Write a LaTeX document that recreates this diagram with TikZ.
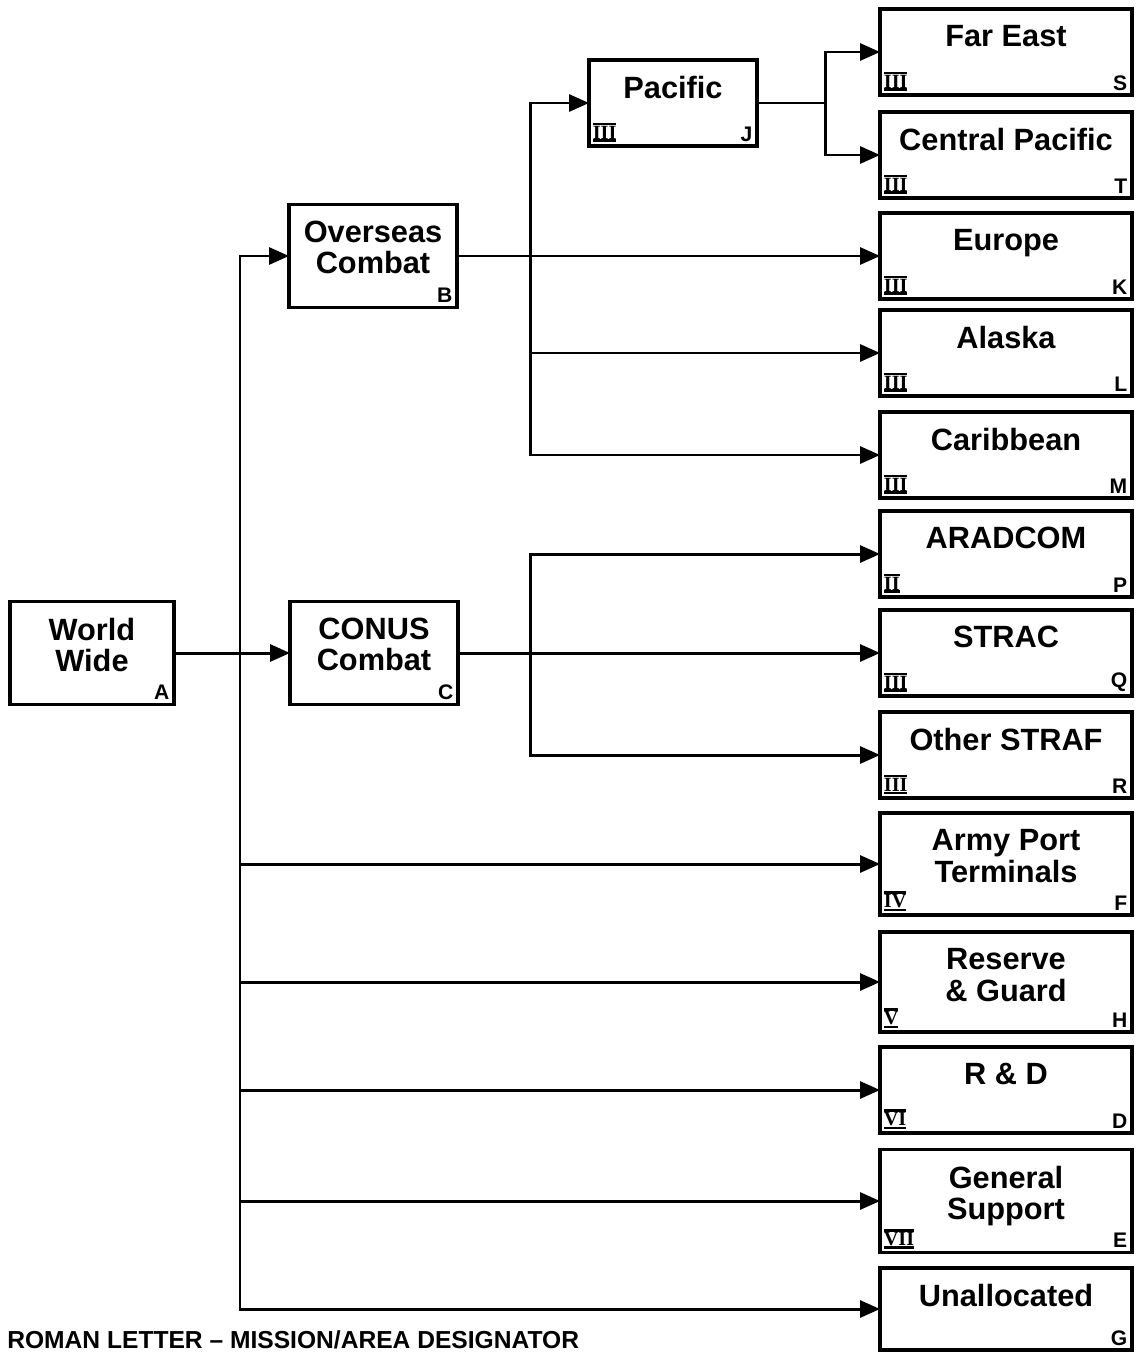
\documentclass[tikz,border=0pt]{standalone}
\usepackage{fontspec}
\setmainfont{Liberation Sans}
\newfontfamily\numfont{Liberation Serif}
\usetikzlibrary{arrows.meta,positioning}
\newcommand{\rnum}[1]{\vbox{\hrule height 1.5pt\kern.3pt\hbox{\numfont\bfseries\fontsize{11.5}{11.5}\selectfont #1}\kern.2pt\hrule height 1.5pt}}

\begin{document}
\begin{tikzpicture}[
    x=0.02cm, y=-0.02cm,
    unitbox/.style={rectangle, draw=black, line width=2pt,
                minimum width=5.04cm, minimum height=1.72cm,
                inner sep=0pt, outer sep=0pt},
    tallbox/.style={unitbox, minimum height=2.04cm},
    headbox/.style={unitbox, minimum width=3.36cm, minimum height=2.06cm},
    toptext/.style={anchor=north, yshift=-0.32cm, inner sep=0pt, align=center,
                font=\bfseries\fontsize{17.5}{18}\selectfont},
    numtext/.style={anchor=south west, inner sep=2pt},
    lettertext/.style={anchor=south east, inner sep=2.5pt,
                font=\bfseries\fontsize{12}{12}\selectfont},
    mission/.style n args={3}{label={[toptext]north:#1},
                label={[numtext]south west:#2},
                label={[lettertext]south east:#3}},
    wire/.style={line width=1.7pt},
    feed/.style={wire, ->},
    twoway/.style={wire, <->},
    >={Triangle[length=0.4cm, width=0.34cm]}
  ]
  \useasboundingbox (0,0) rectangle (1138,1352);

  %% Left side
  \node[headbox, minimum width=3.28cm, mission={World\\Wide}{}{A}] (world) at (92,653) {};
  \node[headbox, mission={Overseas\\Combat}{}{B}] (overseas) at (373,256) {};
  \node[headbox, mission={CONUS\\Combat}{}{C}] (conus) at (374,653) {};
  \node[unitbox, minimum width=3.36cm, mission={Pacific}{\rnum{III}}{J}] (pacific) at (673,103) {};

  %% Right column
  \node[unitbox, mission={Far East}{\rnum{III}}{S}] (fareast) at (1006,52) {};
  \node[unitbox, mission={Central Pacific}{\rnum{III}}{T}] (centpac) at (1006,155) {};
  \node[unitbox, mission={Europe}{\rnum{III}}{K}] (europe) at (1006,256) {};
  \node[unitbox, mission={Alaska}{\rnum{III}}{L}] (alaska) at (1006,353) {};
  \node[unitbox, mission={Caribbean}{\rnum{III}}{M}] (carib) at (1006,455) {};
  \node[unitbox, mission={ARADCOM}{\rnum{II}}{P}] (aradcom) at (1006,554) {};
  \node[unitbox, mission={STRAC}{\rnum{III}}{Q}] (strac) at (1006,653) {};
  \node[unitbox, mission={Other STRAF}{\rnum{III}}{R}] (straf) at (1006,755) {};
  \node[tallbox, mission={Army Port\\Terminals}{\rnum{IV}}{F}] (apt) at (1006,864) {};
  \node[tallbox, minimum height=2cm, mission={Reserve\\\& Guard}{\rnum{V}}{H}] (resg) at (1006,982) {};
  \node[unitbox, mission={R \& D}{\rnum{VI}}{D}] (rnd) at (1006,1090) {};
  \node[tallbox, minimum height=2.06cm, mission={General\\Support}{\rnum{VII}}{E}] (gensup) at (1006,1201) {};
  \node[unitbox, minimum height=1.64cm, mission={Unallocated}{}{G}] (unalloc) at (1006,1309) {};

  %% Branch points
  \coordinate (trunk) at (240,0);
  \coordinate (oseas) at (530,0);
  \coordinate (pfork) at (825,0);
  \coordinate (cfork) at (530,0);

  %% Trunk from World Wide
  \draw[feed] (world) -- (conus);
  \draw[twoway] (unalloc) -| (trunk |- overseas) -- (overseas);
  \foreach \dest in {apt,resg,rnd,gensup}
    \draw[feed] (trunk |- \dest) -- (\dest);

  %% Overseas branch
  \draw[feed] (overseas) -- (europe);
  \draw[twoway] (pacific) -| (oseas |- carib) -- (carib);
  \draw[feed] (oseas |- alaska) -- (alaska);
  \draw[wire] (pacific) -- (pfork |- pacific);
  \draw[twoway] (fareast) -| (pfork |- centpac) -- (centpac);

  %% CONUS branch
  \draw[feed] (conus) -- (strac);
  \draw[twoway] (aradcom) -| (cfork |- straf) -- (straf);

  %% Footnote
  \node[anchor=base west, inner sep=0pt, font=\bfseries\fontsize{14}{14}\selectfont]
        (legend) at (7,1348) {ROMAN LETTER -- MISSION/AREA DESIGNATOR};

\end{tikzpicture}
\end{document}
